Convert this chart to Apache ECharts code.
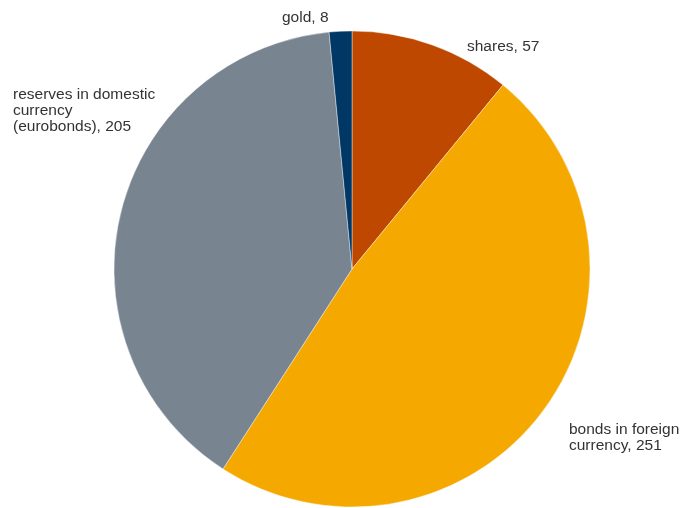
<!DOCTYPE html>
<html lang="en">
<head>
    <meta charset="utf-8">
    <title>Reserves structure</title>
    <script src="https://cdn.jsdelivr.net/npm/echarts@6/dist/echarts.min.js"></script>
    <style>
        html, body { margin: 0; padding: 0; background: #fff; }
        #chart { width: 687px; height: 508px; }
    </style>
</head>
<body>
<div id="chart"></div>
<script>
    // slices, clockwise from 12 o'clock
    var names = ['shares', 'bonds in foreign\ncurrency', 'reserves in domestic\ncurrency\n(eurobonds)', 'gold'];
    var values = [57, 251, 205, 8];
    var colors = ['#bf4800', '#f5a800', '#788591', '#003764'];

    // where the labels sit (Excel-style placement, no leader lines)
    var labelPos = [
        {x: 467, y: 47},
        {x: 569, y: 438},
        {x: 13, y: 111},
        {x: 282, y: 18}
    ];

    var myChart = echarts.init(document.getElementById('chart'));
    myChart.setOption({
        animation: false,
        series: [{
            type: 'pie',
            center: [352, 269],
            radius: 238,
            startAngle: 90,
            clockwise: true,
            data: names.map(function (n, i) {
                return {name: n, value: values[i], itemStyle: {color: colors[i]}};
            }),
            itemStyle: {
                borderColor: '#ffffff',
                borderWidth: 0.4
            },
            label: {
                show: true,
                position: 'outside',
                formatter: '{b}, {c}',
                color: '#333333',
                fontFamily: 'Liberation Sans, Arial, sans-serif',
                fontSize: 15.5,
                lineHeight: 16,
                overflow: 'none',
                width: 300
            },
            labelLine: {show: false},
            labelLayout: function (params) {
                var p = labelPos[params.dataIndex];
                return {x: p.x, y: p.y, align: 'left', verticalAlign: 'middle'};
            }
        }]
    });
</script>
</body>
</html>
